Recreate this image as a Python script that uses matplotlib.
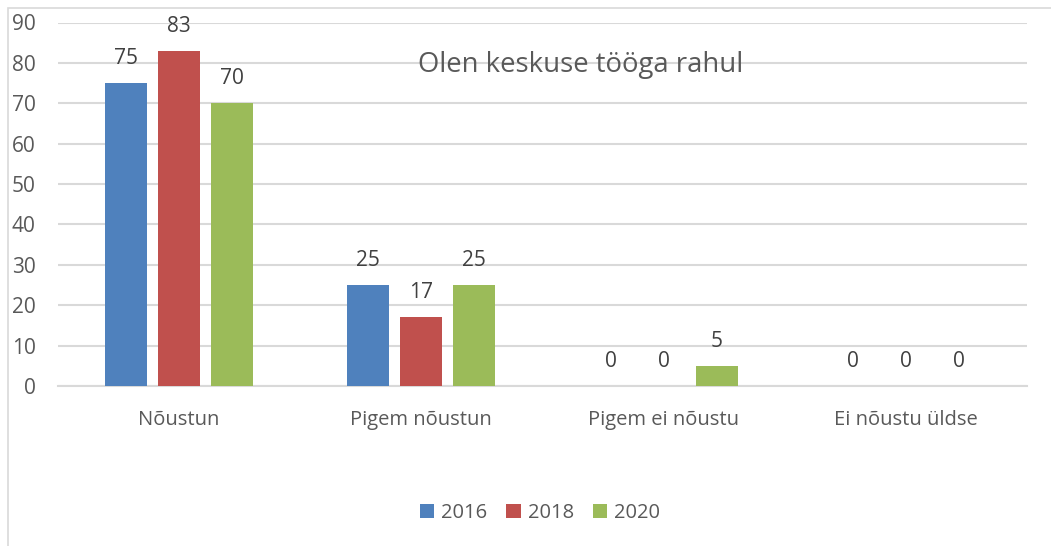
import matplotlib
matplotlib.use("Agg")
from matplotlib import pyplot as plt
from matplotlib.patches import Rectangle

# data
categories = ['Nõustun', 'Pigem nõustun', 'Pigem ei nõustu', 'Ei nõustu üldse']
years = ['2016', '2018', '2020']
values_2016 = [75, 25, 0, 0]
values_2018 = [83, 17, 0, 0]
values_2020 = [70, 25, 5, 0]
series = [values_2016, values_2018, values_2020]
colors = ['#4F81BD', '#C0504D', '#9BBB59']

plt.rcParams['font.family'] = ['Open Sans', 'DejaVu Sans']
txt = '#595959'

fig = plt.figure(figsize=(10.51, 5.46), dpi=100)
W, H = 1051, 546
ax = fig.add_axes([58 / W, (H - 386) / H, (1027 - 58) / W, (386 - 22.5) / H])

bar_w = 0.1736
step = 0.219
x = list(range(len(categories)))
for k, vals in enumerate(series):
    xs = [i + (k - 1) * step for i in x]
    bars = ax.bar(xs, vals, width=bar_w, color=colors[k], label=years[k], zorder=3)
    for xi, v in zip(xs, vals):
        ax.annotate(str(v), (xi, v), xytext=(0, 17.6), textcoords='offset points',
                    ha='center', va='center', fontsize=15, color='#404040')

ax.set_xlim(-0.5, 3.5)
ax.set_ylim(0, 90)
ax.set_yticks(range(0, 91, 10))
ax.set_xticks(x)
ax.set_xticklabels(categories)
ax.grid(axis='y', color='#D9D9D9', linewidth=1.5, zorder=0)
for s in ['top', 'right', 'left']:
    ax.spines[s].set_visible(False)
ax.spines['bottom'].set_color('#D9D9D9')
ax.spines['bottom'].set_linewidth(1.5)
ax.tick_params(axis='both', length=0, labelsize=14.5, colors=txt)
ax.tick_params(axis='y', pad=16, labelsize=15)
ax.tick_params(axis='x', pad=17)

ax.text(581 / W, 1 - 65 / H, 'Olen keskuse tööga rahul', transform=fig.transFigure,
        ha='center', va='center', fontsize=19.8, color=txt)

fig.legend(loc='center', bbox_to_anchor=(540 / W, 1 - 513 / H), ncol=3, frameon=False,
           fontsize=14.5, labelcolor=txt, handlelength=0.7, handleheight=0.7,
           handletextpad=0.35, columnspacing=0.95)

# chart frame (cut off at right and bottom)
fig.patches.append(Rectangle((8 / W, -0.1), 1.2, 1 - 8 / H + 0.1, transform=fig.transFigure,
                             fill=False, edgecolor='#D9D9D9', linewidth=1.2))

fig.savefig('out.png', dpi=100)
